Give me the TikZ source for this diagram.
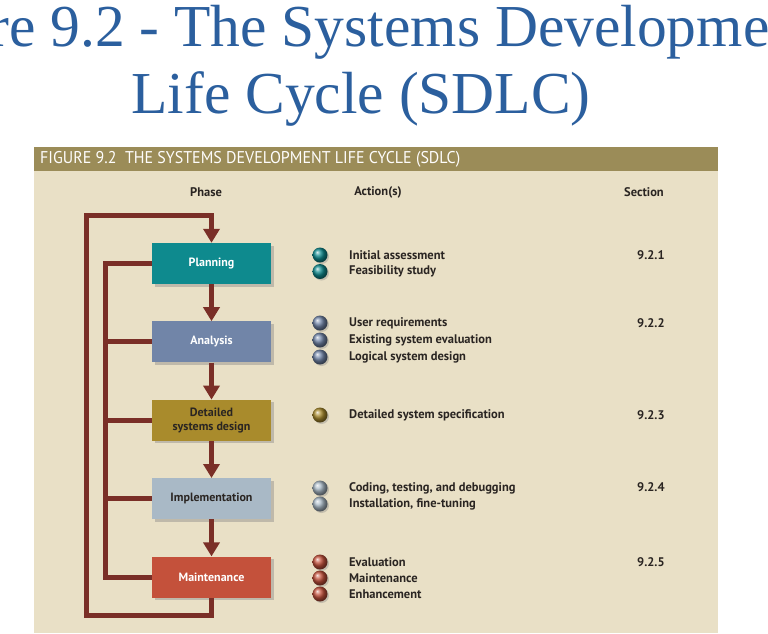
\documentclass[tikz,border=0pt]{standalone}
\usepackage{fontspec}
\setmainfont{Liberation Serif}
\newfontfamily\figfont{PT Sans}
\newfontfamily\headfont[FakeStretch=0.94]{PT Sans}
\usetikzlibrary{arrows.meta,positioning,shadows}
\definecolor{SdlcBlue}{HTML}{2B5F9E}
\definecolor{SdlcBeige}{HTML}{E9E0C6}
\definecolor{SdlcOlive}{HTML}{9B8C58}
\definecolor{SdlcArrow}{HTML}{7A2F27}
\definecolor{SdlcTeal}{HTML}{0E8A8E}
\definecolor{SdlcSlate}{HTML}{7185A8}
\definecolor{SdlcGold}{HTML}{A98B2C}
\definecolor{SdlcGrey}{HTML}{A9B9C6}
\definecolor{SdlcRed}{HTML}{C4513B}
\definecolor{SdlcInk}{HTML}{2A2522}

\begin{document}
\begin{tikzpicture}[x=1pt, y=-1pt, node distance=37pt,
    every node/.style={font=\figfont\bfseries\fontsize{12.5}{13}\selectfont, text=SdlcInk},
    phase/.style={minimum width=119pt, minimum height=41pt, inner sep=1pt, align=center, font=\figfont\bfseries\fontsize{12}{13}\selectfont, drop shadow={shadow xshift=2.5pt,shadow yshift=-2.5pt,opacity=0.4}},
    bullet/.style={circle, minimum size=15pt, inner sep=0pt, ball color=#1, drop shadow={shadow xshift=1.5pt,shadow yshift=-1.5pt,opacity=0.35}},
    act/.style={anchor=west, inner sep=0pt},
    arr/.style={-{Triangle[length=14pt,width=16pt]}, SdlcArrow, line width=5pt, line join=miter},
    link/.style={SdlcArrow, line width=5pt, line join=miter}]
    \useasboundingbox (0,0) rectangle (768,633);
    \clip (0,0) rectangle (768,633);
    \fill[white] (0,0) rectangle (768,633);
    % title
    \node[font=\rmfamily\mdseries\fontsize{59.5}{59.5}\selectfont, text=SdlcBlue, anchor=base] (title1) at (348,46) {Figure 9.2 - The Systems Development};
    \node[font=\rmfamily\mdseries\fontsize{59.5}{59.5}\selectfont, text=SdlcBlue, anchor=base] (title2) at (361,113) {Life Cycle (SDLC)};
    % panel
    \fill[SdlcBeige] (34,147) rectangle (718,633);
    \fill[SdlcOlive] (34,147) rectangle (718,171);
    \node[font=\headfont\fontsize{17}{17}\selectfont, text=white!94!SdlcBeige, anchor=west, inner sep=0pt] (fighead) at (40,159) {FIGURE 9.2\ \ THE SYSTEMS DEVELOPMENT LIFE CYCLE (SDLC)};
    \node (colphase) at (206,192) {Phase};
    \node (colact) at (378,192) {Action(s)};
    \node (colsec) at (644,192) {Section};
    % phases
    \node[phase, fill=SdlcTeal, text=white] (plan) at (211.5,263.5) {Planning};
    \node[phase, fill=SdlcSlate, text=white, below=of plan] (anal) {Analysis};
    \node[phase, fill=SdlcGold, below=of anal] (dsgn) {Detailed\\[1pt]systems design};
    \node[phase, fill=SdlcGrey, below=of dsgn] (impl) {Implementation};
    \node[phase, fill=SdlcRed, text=white, below=of impl] (main) {Maintenance};
    \draw[arr] (plan)--(anal); \draw[arr] (anal)--(dsgn); \draw[arr] (dsgn)--(impl); \draw[arr] (impl)--(main);
    % feedback loops
    \coordinate (loopbot) at (86,615);
    \coordinate (looptop) at (86,215);
    \coordinate (bus) at (105.5,0);
    \draw[arr] (main.south) |- (loopbot) -- (looptop) -| (plan.north);
    \draw[link] (plan.west) -- (plan.west -| bus) -- (main.west -| bus) -- (main.west);
    \draw[link] (anal.west) -- (anal.west -| bus);
    \draw[link] (dsgn.west) -- (dsgn.west -| bus);
    \draw[link] (impl.west) -- (impl.west -| bus);
    % actions
    \node[bullet=SdlcTeal] (b11) at (320,255) {}; \node[act] (a11) at (349,255) {Initial assessment};
    \node[bullet=SdlcTeal] (b12) at (320,271.5) {}; \node[act] (a12) at (349,271.5) {Feasibility study};
    \node[bullet=SdlcSlate] (b21) at (320,323) {}; \node[act] (a21) at (349,323) {User requirements};
    \node[bullet=SdlcSlate] (b22) at (320,340) {}; \node[act] (a22) at (349,340) {Existing system evaluation};
    \node[bullet=SdlcSlate] (b23) at (320,357) {}; \node[act] (a23) at (349,357) {Logical system design};
    \node[bullet=SdlcGold] (b31) at (320,415) {}; \node[act] (a31) at (349,415) {Detailed system specification};
    \node[bullet=SdlcGrey] (b41) at (320,488) {}; \node[act] (a41) at (349,488) {Coding, testing, and debugging};
    \node[bullet=SdlcGrey] (b42) at (320,504) {}; \node[act] (a42) at (349,504) {Installation, fine-tuning};
    \node[bullet=SdlcRed] (b51) at (320,562) {}; \node[act] (a51) at (349,562) {Evaluation};
    \node[bullet=SdlcRed] (b52) at (320,578) {}; \node[act] (a52) at (349,578) {Maintenance};
    \node[bullet=SdlcRed] (b53) at (320,594) {}; \node[act] (a53) at (349,594) {Enhancement};
    % sections
    \node[act] (s1) at (637,255) {9.2.1};
    \node[act] (s2) at (637,323) {9.2.2};
    \node[act] (s3) at (637,415) {9.2.3};
    \node[act] (s4) at (637,487) {9.2.4};
    \node[act] (s5) at (637,562) {9.2.5};
  \end{tikzpicture}
\end{document}
